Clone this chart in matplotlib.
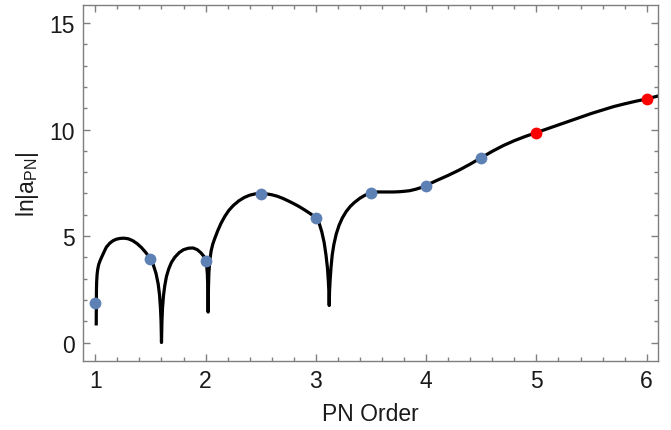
import matplotlib
matplotlib.use('Agg')
import matplotlib.pyplot as plt
from matplotlib.ticker import MultipleLocator

plt.rcParams['font.family'] = ['Liberation Sans', 'DejaVu Sans']
plt.rcParams['mathtext.fontset'] = 'custom'
plt.rcParams['mathtext.rm'] = 'Liberation Sans'
plt.rcParams['mathtext.it'] = 'Liberation Sans:italic'

# curve ln|a_PN|
curve_x = [1.008, 1.009, 1.01, 1.012, 1.016, 1.022, 1.03, 1.04, 1.053, 1.068, 1.085, 1.1,
           1.13, 1.16, 1.19, 1.225, 1.26, 1.3, 1.34, 1.38, 1.42, 1.46,
           1.5, 1.525, 1.55, 1.57, 1.582, 1.591, 1.596, 1.600, 1.604, 1.609,
           1.618, 1.63, 1.645, 1.665, 1.69, 1.72, 1.76, 1.8, 1.845, 1.887,
           1.925, 1.96, 1.985, 2.0, 2.01, 2.016, 2.02, 2.023, 2.026, 2.03,
           2.038, 2.05, 2.065, 2.084, 2.11, 2.14, 2.175, 2.21, 2.25, 2.3,
           2.35, 2.4, 2.45, 2.5, 2.55, 2.6, 2.65, 2.7, 2.75, 2.8,
           2.85, 2.9, 2.95, 3.0, 3.03, 3.054, 3.075, 3.092, 3.105, 3.113,
           3.118, 3.121, 3.124, 3.129, 3.137, 3.148, 3.163, 3.185, 3.21, 3.24,
           3.275, 3.31, 3.35, 3.4, 3.45, 3.5, 3.55, 3.6, 3.65, 3.7,
           3.75, 3.8, 3.85, 3.9, 3.95, 4.0, 4.1, 4.2, 4.3, 4.4,
           4.5, 4.6, 4.7, 4.8, 4.9, 5.0, 5.1, 5.2, 5.3, 5.4,
           5.5, 5.6, 5.7, 5.8, 5.9, 6.0, 6.12]
curve_y = [0.80, 1.8, 2.4, 2.85, 3.2, 3.45, 3.65, 3.8, 3.96, 4.13, 4.32, 4.48,
           4.66, 4.78, 4.85, 4.89, 4.90, 4.87, 4.78, 4.64, 4.45, 4.21,
           3.92, 3.66, 3.25, 2.75, 2.25, 1.6, 1.0, 0.0, 1.0, 1.6,
           2.2, 2.68, 3.1, 3.45, 3.76, 4.0, 4.22, 4.36, 4.43, 4.44,
           4.36, 4.2, 4.04, 3.84, 3.6, 3.2, 2.6, 1.43, 2.6, 3.3,
           3.85, 4.3, 4.62, 4.9, 5.25, 5.6, 5.93, 6.2, 6.43, 6.65,
           6.81, 6.92, 6.98, 6.99, 6.98, 6.94, 6.87, 6.77, 6.65, 6.52,
           6.38, 6.22, 6.05, 5.86, 5.6, 5.19, 4.7, 4.1, 3.5, 2.9,
           2.4, 1.74, 2.4, 2.9, 3.5, 4.1, 4.6, 5.1, 5.5, 5.85,
           6.15, 6.38, 6.58, 6.78, 6.93, 7.04, 7.07, 7.07, 7.07, 7.07,
           7.08, 7.1, 7.13, 7.19, 7.27, 7.38, 7.62, 7.85, 8.1, 8.38,
           8.68, 8.98, 9.25, 9.48, 9.68, 9.86, 10.04, 10.22, 10.4, 10.58,
           10.76, 10.92, 11.08, 11.21, 11.33, 11.44, 11.6]

# known orders (blue) and predicted orders (red)
known_x = [1, 1.5, 2, 2.5, 3, 3.5, 4, 4.5]
known_y = [1.85, 3.92, 3.84, 6.99, 5.86, 7.04, 7.37, 8.68]
pred_x = [5, 6]
pred_y = [9.86, 11.44]

fig = plt.figure(figsize=(6.71, 4.31), dpi=100)
ax = fig.add_axes([0.124, 0.161, 0.857, 0.825])

ax.plot(curve_x, curve_y, color='black', lw=2.3, solid_capstyle='butt',
        solid_joinstyle='round', zorder=2)
ax.plot(known_x, known_y, 'o', color='#5E81B5', ms=8.5, mec='none', zorder=3)
ax.plot(pred_x, pred_y, 'o', color='#FF0000', ms=8.5, mec='none', zorder=3)

ax.set_xlim(0.89, 6.105)
ax.set_ylim(-0.85, 15.85)
ax.xaxis.set_major_locator(MultipleLocator(1))
ax.xaxis.set_minor_locator(MultipleLocator(0.2))
ax.yaxis.set_major_locator(MultipleLocator(5))
ax.yaxis.set_minor_locator(MultipleLocator(1))

for s in ax.spines.values():
    s.set_color('#7f7f7f')
    s.set_linewidth(1.0)
ax.tick_params(which='both', direction='in', top=True, right=True,
               color='#7f7f7f', labelsize=16.5, labelcolor='#1a1a1a', width=1.0)
ax.tick_params(which='major', length=5, pad=6)
ax.tick_params(which='minor', length=2.8)

ax.set_xlabel('PN Order', fontsize=16.5, color='#1a1a1a', labelpad=7)
ax.set_ylabel(r'ln|a$_{\mathrm{PN}}$|', fontsize=16.5, color='#1a1a1a', labelpad=6)

fig.savefig('out.png', dpi=100)
